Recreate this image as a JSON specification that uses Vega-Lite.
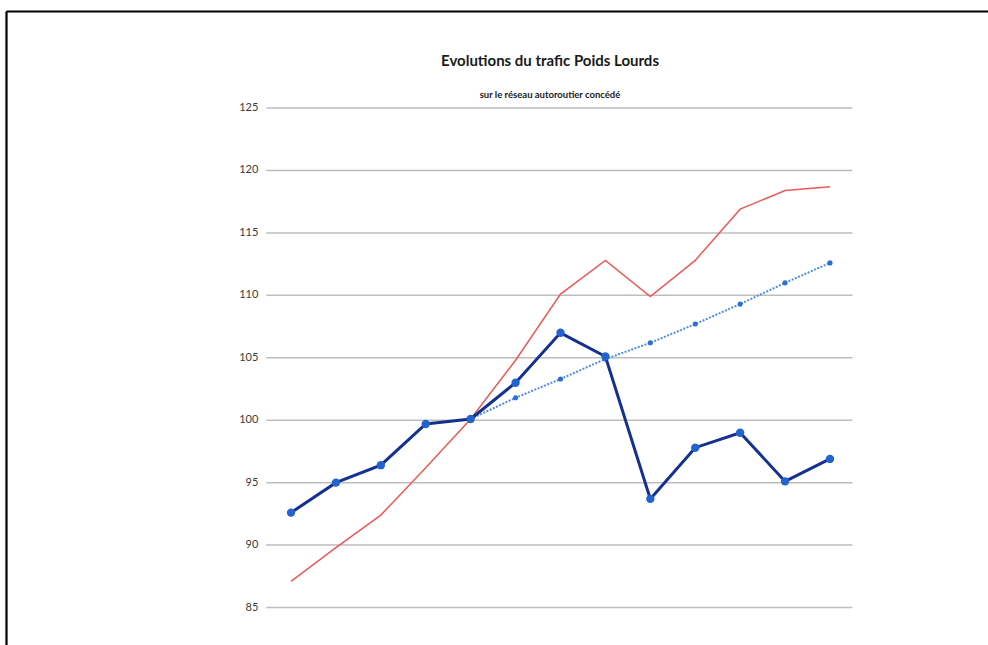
{
  "$schema": "https://vega.github.io/schema/vega-lite/v6.json",
  "width": 982,
  "height": 634,
  "autosize": {"type": "none"},
  "padding": {"left": 6, "top": 11, "right": 0, "bottom": 0},
  "background": "white",
  "config": {"view": {"stroke": null}},
  "title": {
    "text": "Evolutions du trafic Poids Lourds",
    "subtitle": "sur le réseau autoroutier concédé",
    "anchor": "middle",
    "dx": 53,
    "offset": -88,
    "font": "Lato",
    "fontSize": 15,
    "fontWeight": "bold",
    "color": "#1a1a1a",
    "subtitleFont": "Lato",
    "subtitleFontSize": 9.5,
    "subtitleFontWeight": "bold",
    "subtitleColor": "#1a1a1a",
    "subtitlePadding": 21
  },
  "datasets": {
    "grille": [
      {"v": 85}, {"v": 90}, {"v": 95}, {"v": 100}, {"v": 105},
      {"v": 110}, {"v": 115}, {"v": 120}, {"v": 125}
    ],
    "series": [
      {"annee": 1, "serie": "Trafic PL", "valeur": 92.6},
      {"annee": 2, "serie": "Trafic PL", "valeur": 95.0},
      {"annee": 3, "serie": "Trafic PL", "valeur": 96.4},
      {"annee": 4, "serie": "Trafic PL", "valeur": 99.7},
      {"annee": 5, "serie": "Trafic PL", "valeur": 100.1},
      {"annee": 6, "serie": "Trafic PL", "valeur": 103.0},
      {"annee": 7, "serie": "Trafic PL", "valeur": 107.0},
      {"annee": 8, "serie": "Trafic PL", "valeur": 105.1},
      {"annee": 9, "serie": "Trafic PL", "valeur": 93.7},
      {"annee": 10, "serie": "Trafic PL", "valeur": 97.8},
      {"annee": 11, "serie": "Trafic PL", "valeur": 99.0},
      {"annee": 12, "serie": "Trafic PL", "valeur": 95.1},
      {"annee": 13, "serie": "Trafic PL", "valeur": 96.9},
      {"annee": 5, "serie": "Tendance", "valeur": 100.1},
      {"annee": 6, "serie": "Tendance", "valeur": 101.8},
      {"annee": 7, "serie": "Tendance", "valeur": 103.3},
      {"annee": 8, "serie": "Tendance", "valeur": 104.9},
      {"annee": 9, "serie": "Tendance", "valeur": 106.2},
      {"annee": 10, "serie": "Tendance", "valeur": 107.7},
      {"annee": 11, "serie": "Tendance", "valeur": 109.3},
      {"annee": 12, "serie": "Tendance", "valeur": 111.0},
      {"annee": 13, "serie": "Tendance", "valeur": 112.6},
      {"annee": 1, "serie": "Référence", "valeur": 87.1},
      {"annee": 2, "serie": "Référence", "valeur": 89.8},
      {"annee": 3, "serie": "Référence", "valeur": 92.4},
      {"annee": 4, "serie": "Référence", "valeur": 96.2},
      {"annee": 5, "serie": "Référence", "valeur": 100.1},
      {"annee": 6, "serie": "Référence", "valeur": 104.8},
      {"annee": 7, "serie": "Référence", "valeur": 110.1},
      {"annee": 8, "serie": "Référence", "valeur": 112.8},
      {"annee": 9, "serie": "Référence", "valeur": 109.9},
      {"annee": 10, "serie": "Référence", "valeur": 112.8},
      {"annee": 11, "serie": "Référence", "valeur": 116.9},
      {"annee": 12, "serie": "Référence", "valeur": 118.4},
      {"annee": 13, "serie": "Référence", "valeur": 118.7}
    ]
  },
  "layer": [
    {
      "data": {"name": "grille"},
      "mark": {"type": "rule", "color": "#bdbdbd", "strokeWidth": 1.5},
      "encoding": {
        "x": {"datum": 0.45, "type": "quantitative", "scale": {"domain": [-5.345, 16.518], "nice": false, "zero": false}, "axis": {"orient": "top", "labels": false, "ticks": false, "grid": false, "domainColor": "#000000", "domainWidth": 2.2, "title": null}},
        "x2": {"datum": 13.5},
        "y": {"field": "v", "type": "quantitative", "scale": {"domain": [82.0, 132.77], "nice": false, "zero": false}, "axis": {"orient": "left", "labels": false, "ticks": false, "grid": false, "domainColor": "#000000", "domainWidth": 2.2, "title": null}}
      }
    },
    {
      "data": {"name": "grille"},
      "mark": {"type": "text", "align": "right", "baseline": "middle", "dx": -8, "font": "Lato", "fontSize": 11, "color": "#3a3a3a"},
      "encoding": {
        "x": {"datum": 0.45, "type": "quantitative"},
        "y": {"field": "v", "type": "quantitative"},
        "text": {"field": "v", "type": "quantitative"}
      }
    },
    {
      "data": {"name": "series"},
      "transform": [{"filter": "datum.serie === 'Référence'"}],
      "mark": {"type": "line", "color": "#ec5a56", "strokeWidth": 1.5},
      "encoding": {
        "x": {"field": "annee", "type": "quantitative"},
        "y": {"field": "valeur", "type": "quantitative"}
      }
    },
    {
      "data": {"name": "series"},
      "transform": [{"filter": "datum.serie === 'Tendance'"}],
      "mark": {"type": "line", "color": "#4f8fe0", "strokeWidth": 2, "strokeDash": [2, 1.5], "point": {"filled": true, "color": "#2a6ed6", "size": 26}},
      "encoding": {
        "x": {"field": "annee", "type": "quantitative"},
        "y": {"field": "valeur", "type": "quantitative"}
      }
    },
    {
      "data": {"name": "series"},
      "transform": [{"filter": "datum.serie === 'Trafic PL'"}],
      "mark": {"type": "line", "color": "#15318f", "strokeWidth": 3, "point": {"filled": true, "color": "#2263cf", "size": 70}},
      "encoding": {
        "x": {"field": "annee", "type": "quantitative"},
        "y": {"field": "valeur", "type": "quantitative"}
      }
    }
  ]
}
